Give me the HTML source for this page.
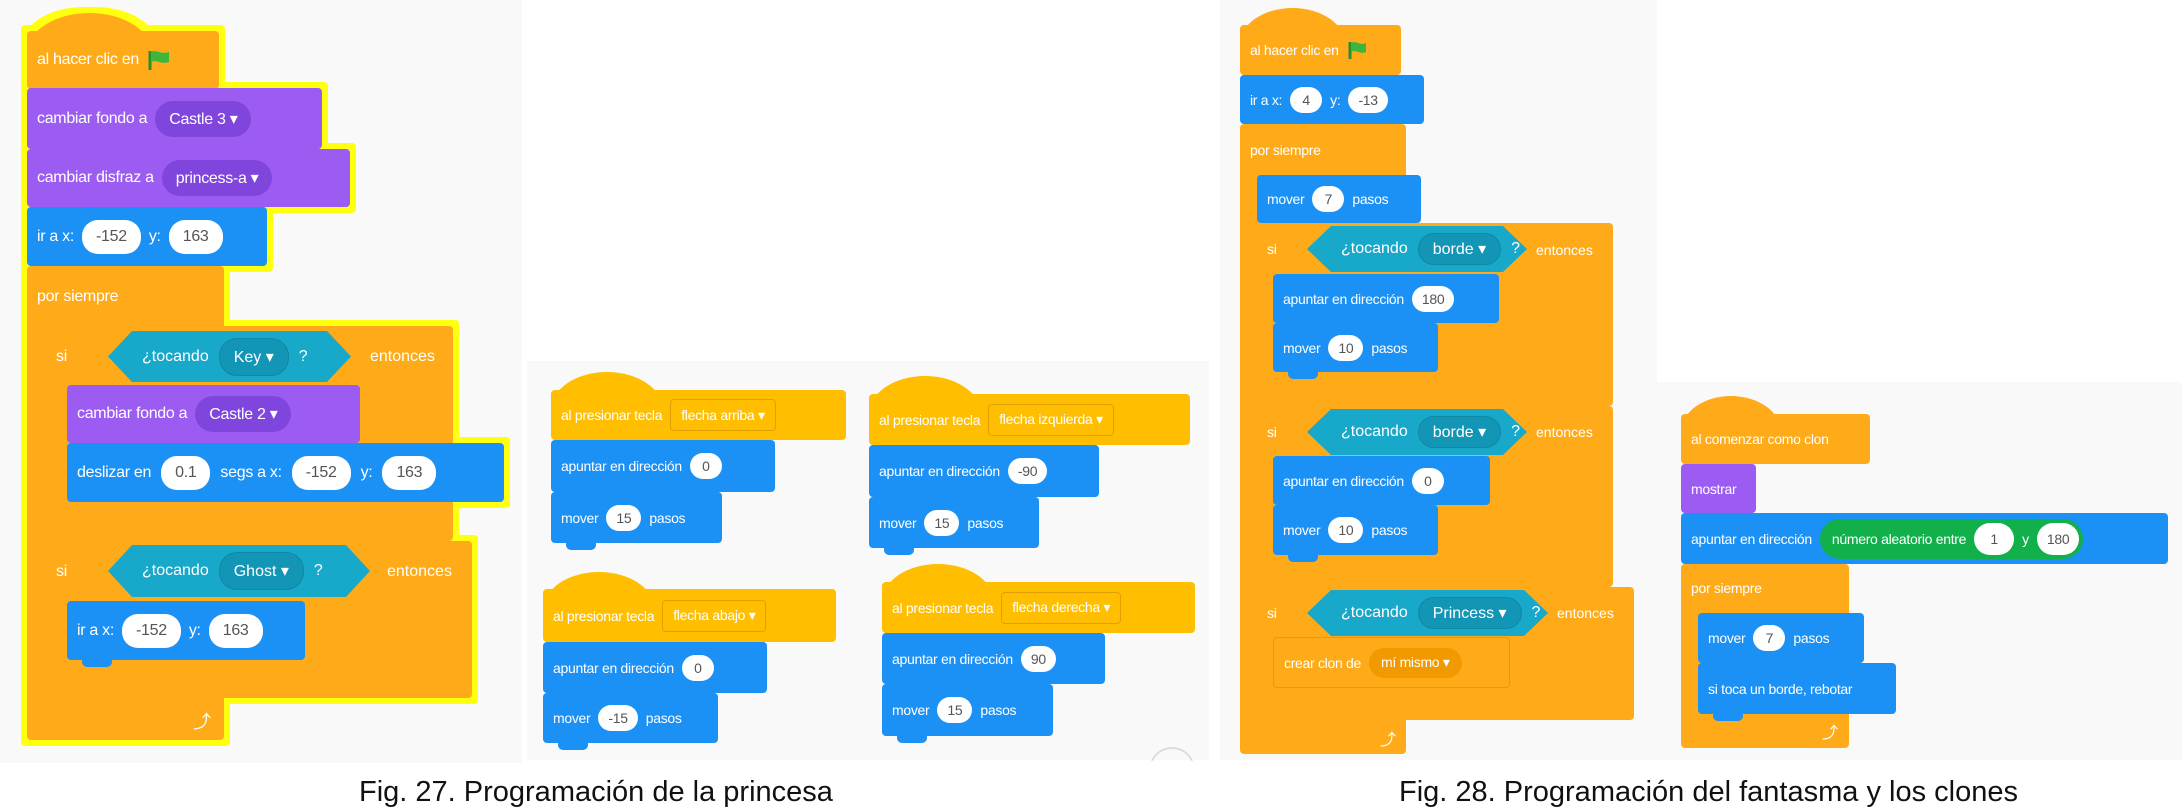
<!DOCTYPE html>
<html><head><meta charset="utf-8"><style>
body{margin:0;width:2182px;height:811px;background:#fff;position:relative;overflow:hidden;font-family:"Liberation Sans",sans-serif}
.bg{position:absolute;background:#f9f9f9}
.b{position:absolute;box-sizing:border-box;border-radius:4px;color:#fff;display:flex;align-items:center;padding-left:10px;white-space:nowrap;font-size:14px;gap:8px;letter-spacing:-0.3px}
.o{background:#ffab19}.e{background:#ffbf00}.m{background:#1b90f5}.p{background:#9c5cf2}.t{background:#18a8c9}
.dome{position:absolute;border-radius:50% 50% 0 0/100% 100% 0 0}
.in{background:#fff;color:#555;border-radius:16px;padding:0 10px;height:26px;display:flex;align-items:center;justify-content:center;min-width:12px}
.dp{background:#7f45dc;border-radius:18px;padding:0 14px;height:30px;display:flex;align-items:center}
.dt{background:#1395b5;border-radius:18px;padding:0 14px;height:30px;display:flex;align-items:center;border:1px solid #0f88a6}
.de{border:1px solid #e0a000;border-radius:4px;padding:0 10px;height:30px;display:flex;align-items:center}
.do{background:#f09a00;border-radius:16px;padding:0 12px;height:30px;display:flex;align-items:center}
.hex{position:absolute;box-sizing:border-box;background:#18a8c9;color:#fff;display:flex;align-items:center;gap:10px;white-space:nowrap;clip-path:polygon(0 50%,24px 0,calc(100% - 24px) 0,100% 50%,calc(100% - 24px) 100%,24px 100%);padding-left:34px}
.f1 .b{font-size:16px}.f1 .in{height:34px;padding:0 14px}
.tab{position:absolute;height:7px;width:30px;border-radius:0 0 5px 5px}
.cap{position:absolute;font-family:"Liberation Sans",sans-serif;font-size:29px;color:#111;white-space:nowrap}
.ar{font-size:16px}
</style></head><body>
<div class="bg" style="left:0;top:0;width:522px;height:763px"></div>
<div class="bg" style="left:527px;top:361px;width:682px;height:399px"></div>
<div class="bg" style="left:1220px;top:0;width:437px;height:760px"></div>
<div class="bg" style="left:1657px;top:382px;width:525px;height:378px"></div>

<!-- Fig 27 left -->
<div class="f1" style="position:absolute;left:0;top:0;width:540px;height:760px;filter:drop-shadow(6px 0 0 #ffff10) drop-shadow(-6px 0 0 #ffff10) drop-shadow(0 6px 0 #ffff10) drop-shadow(0 -6px 0 #ffff10)">
<div class="dome o" style="left:27px;top:13px;width:125px;height:40px"></div>
<div class="b o" style="left:27px;top:31px;width:192px;height:58px">al hacer clic en <svg width="24" height="22"><path d="M3 2v19" stroke="#2a8f2a" stroke-width="3"/><path d="M4 3c6-3 10 3 18 0v10c-8 3-12-3-18 0z" fill="#3cb63c"/></svg></div>
<div class="b p" style="left:27px;top:88px;width:295px;height:61px">cambiar fondo a <span class="dp" style="height:36px">Castle 3 &#9662;</span></div>
<div class="b p" style="left:27px;top:149px;width:323px;height:58px">cambiar disfraz a <span class="dp" style="height:36px">princess-a &#9662;</span></div>
<div class="b m" style="left:27px;top:207px;width:240px;height:59px">ir a x: <span class="in">-152</span> y: <span class="in">163</span></div>
<div class="b o" style="left:27px;top:266px;width:197px;height:474px;align-items:flex-start;padding-top:22px">por siempre</div>
<div class="b o" style="left:46px;top:326px;width:407px;height:215px;align-items:flex-start;padding-top:22px">si</div>
<div class="hex" style="left:108px;top:331px;width:243px;height:51px">¿tocando <span class="dt" style="height:36px">Key &#9662;</span> ?</div>
<div style="position:absolute;left:370px;top:348px;color:#fff;font-size:16px">entonces</div>
<div class="b p" style="left:67px;top:385px;width:293px;height:58px">cambiar fondo a <span class="dp" style="height:36px">Castle 2 &#9662;</span></div>
<div class="b m" style="left:67px;top:443px;width:437px;height:59px;gap:10px">deslizar en <span class="in">0.1</span> segs a x: <span class="in">-152</span> y: <span class="in">163</span></div>
<div class="b o" style="left:46px;top:541px;width:426px;height:157px;align-items:flex-start;padding-top:22px">si</div>
<div class="hex" style="left:108px;top:545px;width:262px;height:52px">¿tocando <span class="dt" style="height:36px">Ghost &#9662;</span> ?</div>
<div style="position:absolute;left:387px;top:563px;color:#fff;font-size:16px">entonces</div>
<div class="b m" style="left:67px;top:601px;width:238px;height:59px">ir a x: <span class="in">-152</span> y: <span class="in">163</span></div>
<div class="tab m" style="left:82px;top:660px"></div>
<div style="position:absolute;left:193px;top:708px;color:#fff;font-size:18px">&#10548;</div>
</div>

<!-- Middle -->
<div class="dome e" style="left:551px;top:372px;width:112px;height:38px"></div>
<div class="b e" style="left:551px;top:390px;width:295px;height:50px">al presionar tecla <span class="de">flecha arriba &#9662;</span></div>
<div class="b m" style="left:551px;top:440px;width:224px;height:52px">apuntar en dirección <span class="in">0</span></div>
<div class="b m" style="left:551px;top:492px;width:171px;height:51px">mover <span class="in">15</span> pasos</div>
<div class="tab m" style="left:566px;top:543px"></div>

<div class="dome e" style="left:869px;top:376px;width:112px;height:38px"></div>
<div class="b e" style="left:869px;top:394px;width:321px;height:51px">al presionar tecla <span class="de">flecha izquierda &#9662;</span></div>
<div class="b m" style="left:869px;top:445px;width:230px;height:52px">apuntar en dirección <span class="in">-90</span></div>
<div class="b m" style="left:869px;top:497px;width:170px;height:51px">mover <span class="in">15</span> pasos</div>
<div class="tab m" style="left:884px;top:548px"></div>

<div class="dome e" style="left:543px;top:572px;width:112px;height:38px"></div>
<div class="b e" style="left:543px;top:589px;width:293px;height:53px">al presionar tecla <span class="de">flecha abajo &#9662;</span></div>
<div class="b m" style="left:543px;top:642px;width:224px;height:51px">apuntar en dirección <span class="in">0</span></div>
<div class="b m" style="left:543px;top:693px;width:175px;height:50px">mover <span class="in">-15</span> pasos</div>
<div class="tab m" style="left:558px;top:743px"></div>

<div class="dome e" style="left:882px;top:564px;width:112px;height:38px"></div>
<div class="b e" style="left:882px;top:582px;width:313px;height:51px">al presionar tecla <span class="de">flecha derecha &#9662;</span></div>
<div class="b m" style="left:882px;top:633px;width:223px;height:51px">apuntar en dirección <span class="in">90</span></div>
<div class="b m" style="left:882px;top:684px;width:171px;height:52px">mover <span class="in">15</span> pasos</div>
<div class="tab m" style="left:897px;top:736px"></div>
<div style="position:absolute;left:1149px;top:747px;width:46px;height:46px;border:2px solid #ddd;border-radius:50%;box-sizing:border-box;clip-path:inset(0 0 70% 0)"></div>

<!-- Fig 28 script 1 -->
<div class="dome o" style="left:1240px;top:8px;width:105px;height:36px"></div>
<div class="b o" style="left:1240px;top:25px;width:161px;height:50px">al hacer clic en <svg width="20" height="20"><path d="M3 2v17" stroke="#2a8f2a" stroke-width="3"/><path d="M4 3c5-3 9 3 15 0v9c-6 3-10-3-15 0z" fill="#3cb63c"/></svg></div>
<div class="b m" style="left:1240px;top:75px;width:184px;height:49px">ir a x: <span class="in">4</span> y: <span class="in">-13</span></div>
<div class="b o" style="left:1240px;top:124px;width:166px;height:630px;align-items:flex-start;padding-top:18px">por siempre</div>
<div class="b m" style="left:1257px;top:175px;width:164px;height:48px">mover <span class="in">7</span> pasos</div>
<div class="b o" style="left:1257px;top:223px;width:356px;height:183px;align-items:flex-start;padding-top:18px">si</div>
<div class="hex" style="left:1307px;top:226px;width:220px;height:46px">¿tocando <span class="dt">borde &#9662;</span> ?</div>
<div style="position:absolute;left:1536px;top:242px;color:#fff;font-size:14px">entonces</div>
<div class="b m" style="left:1273px;top:274px;width:226px;height:49px">apuntar en dirección <span class="in">180</span></div>
<div class="b m" style="left:1273px;top:323px;width:165px;height:49px">mover <span class="in">10</span> pasos</div>
<div class="tab m" style="left:1288px;top:372px"></div>
<div class="b o" style="left:1257px;top:406px;width:356px;height:181px;align-items:flex-start;padding-top:18px">si</div>
<div class="hex" style="left:1307px;top:409px;width:220px;height:46px">¿tocando <span class="dt">borde &#9662;</span> ?</div>
<div style="position:absolute;left:1536px;top:424px;color:#fff;font-size:14px">entonces</div>
<div class="b m" style="left:1273px;top:456px;width:217px;height:49px">apuntar en dirección <span class="in">0</span></div>
<div class="b m" style="left:1273px;top:505px;width:165px;height:50px">mover <span class="in">10</span> pasos</div>
<div class="tab m" style="left:1288px;top:555px"></div>
<div class="b o" style="left:1257px;top:587px;width:377px;height:133px;align-items:flex-start;padding-top:18px">si</div>
<div class="hex" style="left:1307px;top:590px;width:241px;height:46px">¿tocando <span class="dt">Princess &#9662;</span> ?</div>
<div style="position:absolute;left:1557px;top:605px;color:#fff;font-size:14px">entonces</div>
<div class="b o" style="left:1273px;top:637px;width:237px;height:51px;border:1px solid #e89a00;color:#fff">crear clon de <span class="do">mí mismo &#9662;</span></div>
<div style="position:absolute;left:1380px;top:726px;color:#fff" class="ar">&#10548;</div>

<!-- Fig 28 script 2 -->
<div class="dome o" style="left:1681px;top:396px;width:100px;height:36px"></div>
<div class="b o" style="left:1681px;top:414px;width:189px;height:50px">al comenzar como clon</div>
<div class="b p" style="left:1681px;top:464px;width:75px;height:49px">mostrar</div>
<div class="b m" style="left:1681px;top:513px;width:487px;height:51px">apuntar en dirección <span style="background:#12b04a;border-radius:20px;height:40px;display:flex;align-items:center;gap:8px;padding:0 4px 0 12px">número aleatorio entre <span class="in" style="height:32px;width:20px">1</span> y <span class="in" style="height:32px">180</span></span></div>
<div class="b o" style="left:1681px;top:564px;width:168px;height:184px;align-items:flex-start;padding-top:16px">por siempre</div>
<div class="b m" style="left:1698px;top:613px;width:166px;height:50px">mover <span class="in">7</span> pasos</div>
<div class="b m" style="left:1698px;top:663px;width:198px;height:51px">si toca un borde, rebotar</div>
<div class="tab m" style="left:1713px;top:714px"></div>
<div style="position:absolute;left:1822px;top:719px;color:#fff" class="ar">&#10548;</div>

<div class="cap" style="left:359px;top:776px">Fig. 27. Programación de la princesa</div>
<div class="cap" style="left:1399px;top:776px">Fig. 28. Programación del fantasma y los clones</div>
</body></html>
